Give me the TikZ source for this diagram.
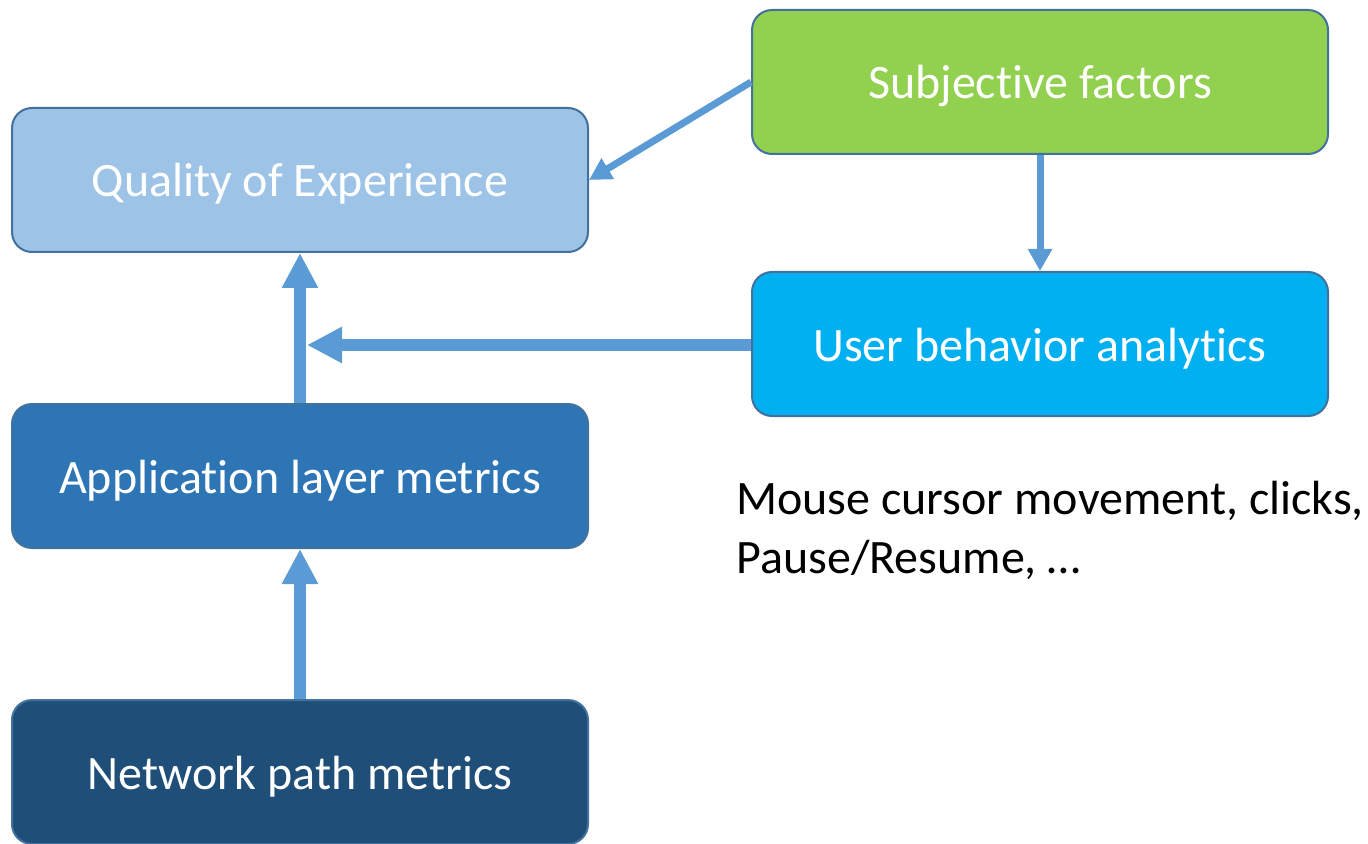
\documentclass[tikz,border=0pt]{standalone}
\usepackage{fontspec}
\setmainfont{Carlito}[Ligatures=NoCommon]
\usetikzlibrary{arrows.meta}
\definecolor{qoeblue}{HTML}{9DC3E6}
\definecolor{subjgreen}{HTML}{92D050}
\definecolor{ubacyan}{HTML}{00B0F0}
\definecolor{appblue}{HTML}{2E75B6}
\definecolor{netblue}{HTML}{1F4E79}
\definecolor{edgeblue}{HTML}{41719C}
\definecolor{arrowblue}{HTML}{5B9BD5}
\tikzset{
  box/.style={draw=edgeblue,line width=1pt,rounded corners=10pt,minimum width=288pt,minimum height=72pt,text height=17pt,text depth=0pt,text=white,font=\fontsize{24}{29}\selectfont},
  bigarrow/.style={arrowblue,line width=6pt,-{Triangle[length=17.5pt,width=17pt]}},
  smallarrow/.style={arrowblue,line width=3.5pt,-{Triangle[length=11pt,width=11.5pt]}}
}
\begin{document}
\begin{tikzpicture}[x=0.5pt,y=-0.5pt]
    \useasboundingbox (0,0) rectangle (1368,844);
    \begin{scope}
      \tikzstyle{every node}=[box]
      \node[fill=qoeblue]   (QoE)  at (300 ,180) {Quality of Experience};
      \node[fill=subjgreen] (Subj) at (1040,82)  {Subjective factors};
      \node[fill=ubacyan]   (UBA)  at (1040,344) {User behavior analytics};
      \node[fill=appblue]   (App)  at (300 ,476) {Application layer metrics};
      \node[fill=netblue]   (Net)  at (300 ,772) {Network path metrics};
    \end{scope}

    \node[anchor=north west,align=left,font=\fontsize{24}{29.5}\selectfont,inner sep=0pt] (Mouse) at (736,481)
      {Mouse cursor movement, clicks,\\Pause/Resume, \dots};

    \coordinate (J) at (307,345);

    \draw[bigarrow]   (Net.north)  -- (App.south);
    \draw[bigarrow]   (App.north)  -- (QoE.south);
    \draw[bigarrow]   (UBA.west |- J) -- (J);
    \draw[smallarrow] (Subj.south) -- (UBA.north);
    \draw[smallarrow] (Subj.west)  -- (QoE.east);
  \end{tikzpicture}
\end{document}
